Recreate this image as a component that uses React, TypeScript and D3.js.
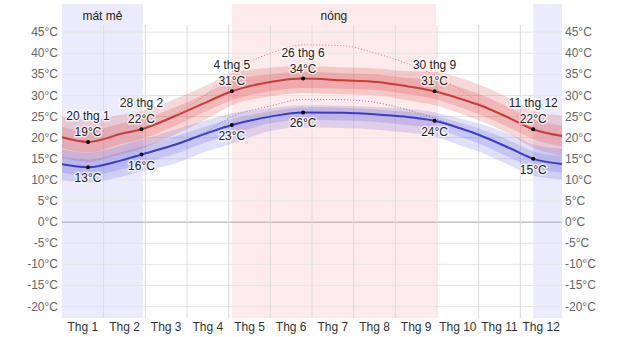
import React from "react";
import * as d3 from "d3";

const W = 624;
const H = 337;

const monthLabels = ["Thg 1", "Thg 2", "Thg 3", "Thg 4", "Thg 5", "Thg 6", "Thg 7", "Thg 8", "Thg 9", "Thg 10", "Thg 11", "Thg 12"];
const yTicks = [-20, -15, -10, -5, 0, 5, 10, 15, 20, 25, 30, 35, 40, 45];

const days = [0, 19, 44, 58, 81, 106, 124, 152, 176, 205, 230, 250, 272, 290, 305, 327, 344, 365];
const highAvg = [20.1, 19.0, 21.0, 22.0, 24.9, 28.5, 31.0, 33.2, 34.0, 33.6, 33.2, 32.3, 31.0, 29.3, 27.7, 24.6, 22.0, 20.4];
const highP90 = [25.0, 24.3, 25.5, 26.3, 29.0, 32.5, 35.3, 36.6, 37.0, 36.7, 36.4, 35.8, 35.6, 34.2, 32.5, 29.3, 26.4, 25.3];
const highP75 = [22.6, 21.7, 23.4, 24.4, 27.0, 30.6, 33.6, 35.0, 35.6, 35.3, 35.0, 34.2, 33.6, 32.0, 30.3, 27.1, 24.4, 22.9];
const highP25 = [17.5, 16.5, 18.6, 19.7, 22.6, 26.4, 28.9, 31.0, 31.8, 31.6, 31.3, 30.4, 29.2, 27.3, 25.5, 22.3, 19.7, 17.9];
const highP10 = [15.3, 14.3, 16.2, 17.4, 20.5, 24.5, 27.7, 29.8, 30.6, 30.3, 30.0, 29.0, 27.7, 25.8, 24.0, 20.8, 17.6, 15.7];

const lowAvg = [13.7, 13.0, 14.7, 16.0, 18.2, 21.1, 23.0, 25.0, 26.0, 25.9, 25.5, 25.0, 24.0, 22.3, 20.6, 17.5, 15.0, 13.8];
const lowP90 = [17.2, 16.4, 18.2, 19.5, 21.8, 24.2, 25.8, 27.0, 27.7, 27.6, 27.3, 26.9, 26.0, 24.6, 23.3, 20.8, 18.4, 17.4];
const lowP75 = [15.6, 14.8, 16.6, 17.9, 20.1, 22.8, 24.5, 26.2, 27.2, 27.1, 26.7, 26.2, 25.2, 23.6, 22.1, 19.3, 16.8, 15.7];
const lowP25 = [11.7, 11.0, 12.6, 13.8, 16.0, 19.0, 20.8, 23.4, 24.2, 24.1, 23.7, 23.1, 22.2, 20.3, 18.6, 15.3, 12.9, 11.8];
const lowP10 = [9.9, 9.4, 10.8, 12.0, 13.8, 16.8, 18.6, 21.6, 22.4, 22.3, 21.9, 21.3, 20.3, 18.3, 16.6, 13.4, 11.0, 10.1];

const feelDays = [58, 81, 106, 124, 152, 176, 205, 230, 250, 272, 290, 305, 327];
const highFeel = [22.0, 25.3, 30.5, 35.6, 40.0, 42.0, 41.8, 39.9, 37.8, 34.8, 31.5, 28.3, 24.8];
const lowFeel = [16.0, 18.3, 21.6, 25.0, 27.5, 29.1, 29.0, 28.3, 26.8, 24.6, 22.4, 20.6, 17.5];

const annDays = [19, 58, 124, 176, 272, 344];
const annDates = ["20 thg 1", "28 thg 2", "4 thg 5", "26 thg 6", "30 thg 9", "11 thg 12"];
const annHigh = [19, 22, 31, 34, 31, 22];
const annLow = [13, 16, 23, 26, 24, 15];

const seasonStarts = [0, 124, 344];
const seasonEnds = [59, 273, 365];
const seasonNames = ["mát mẻ", "nóng", ""];
const seasonKinds = ["cool", "hot", "cool"];

const FONT = "'Liberation Sans', Arial, sans-serif";

export default function App() {
  const left = 62, right = 562, top = 25, bottom = 318;
  const x = d3.scaleLinear().domain([0, 365]).range([left, right]);
  const y = d3.scaleLinear().domain([-22.7, 46.7]).range([bottom, top]);

  const curve = d3.curveMonotoneX;
  const idx = days.map((_, i) => i);
  const area = (lo: number[], hi: number[]) =>
    d3.area<number>().x(i => x(days[i])).y0(i => y(lo[i])).y1(i => y(hi[i])).curve(curve)(idx) || "";
  const line = (v: number[]) =>
    d3.line<number>().x(i => x(days[i])).y(i => y(v[i])).curve(curve)(idx) || "";
  const fIdx = feelDays.map((_, i) => i);
  const feelLine = (v: number[]) =>
    d3.line<number>().x(i => x(feelDays[i])).y(i => y(v[i])).curve(curve)(fIdx) || "";

  const monthEdges = d3.range(13).map(m => (m * 365) / 12);
  const halo = { paintOrder: "stroke", stroke: "rgba(255,255,255,0.7)", strokeWidth: 3, strokeLinejoin: "round" } as any;

  return (
    <svg width={W} height={H} style={{ position: "absolute", left: 0, top: 0, background: "#fff" }} fontFamily={FONT}>
      {seasonStarts.map((s, i) => (
        <rect key={"sb" + i} x={x(s)} y={4} width={x(seasonEnds[i]) - x(s)} height={bottom - 4}
          fill={seasonKinds[i] === "hot" ? "#fdeaea" : "#ebebfd"} />
      ))}
      {seasonStarts.map((s, i) => (
        <text key={"sl" + i} x={(x(s) + x(seasonEnds[i])) / 2} y={20} textAnchor="middle" fontSize={12} fill="#222">
          {seasonNames[i]}
        </text>
      ))}
      {yTicks.map(t => (
        <line key={"hg" + t} x1={left} x2={right} y1={y(t)} y2={y(t)}
          stroke={t === 0 ? "#a8a8a8" : "#e6e6e6"} strokeWidth={1} />
      ))}
      {monthEdges.slice(1, 12).map((d, i) => (
        <line key={"vg" + i} x1={x(d)} x2={x(d)} y1={top} y2={bottom} stroke="#dcdcdc" strokeWidth={1} />
      ))}
      <path d={area(highP10, highP90)} fill="rgba(215,60,60,0.2)" />
      <path d={area(highP25, highP75)} fill="rgba(215,60,60,0.2)" />
      <path d={area(lowP10, lowP90)} fill="rgba(70,70,215,0.17)" />
      <path d={area(lowP25, lowP75)} fill="rgba(70,70,215,0.17)" />
      <path d={feelLine(highFeel)} fill="none" stroke="#e07a7a" strokeWidth={1} strokeDasharray="1,2" />
      <path d={feelLine(lowFeel)} fill="none" stroke="#8a7ad8" strokeWidth={1} strokeDasharray="1,2" />
      <path d={line(highAvg)} fill="none" stroke="#c83c3c" strokeWidth={2} />
      <path d={line(lowAvg)} fill="none" stroke="#3c3cc8" strokeWidth={2} />
      {annDays.map((d, i) => (
        <g key={"an" + i}>
          <circle cx={x(d)} cy={y(annHigh[i])} r={2} fill="#000" />
          <circle cx={x(d)} cy={y(annLow[i])} r={2} fill="#000" />
          <text x={x(d)} y={y(annHigh[i]) - 22} textAnchor="middle" fontSize={12} fill="#222" style={halo}>{annDates[i]}</text>
          <text x={x(d)} y={y(annHigh[i]) - 6} textAnchor="middle" fontSize={12} fill="#222" style={halo}>{annHigh[i]}°C</text>
          <text x={x(d)} y={y(annLow[i]) + 15} textAnchor="middle" fontSize={12} fill="#222" style={halo}>{annLow[i]}°C</text>
        </g>
      ))}
      {yTicks.map(t => (
        <g key={"yl" + t}>
          <text x={58} y={y(t) + 4} textAnchor="end" fontSize={12} fill="#666">{t}°C</text>
          <text x={565} y={y(t) + 4} textAnchor="start" fontSize={12} fill="#666">{t}°C</text>
        </g>
      ))}
      {monthLabels.map((m, i) => (
        <text key={"ml" + i} x={x((monthEdges[i] + monthEdges[i + 1]) / 2)} y={331} textAnchor="middle" fontSize={12} fill="#333">
          {m}
        </text>
      ))}
    </svg>
  );
}
